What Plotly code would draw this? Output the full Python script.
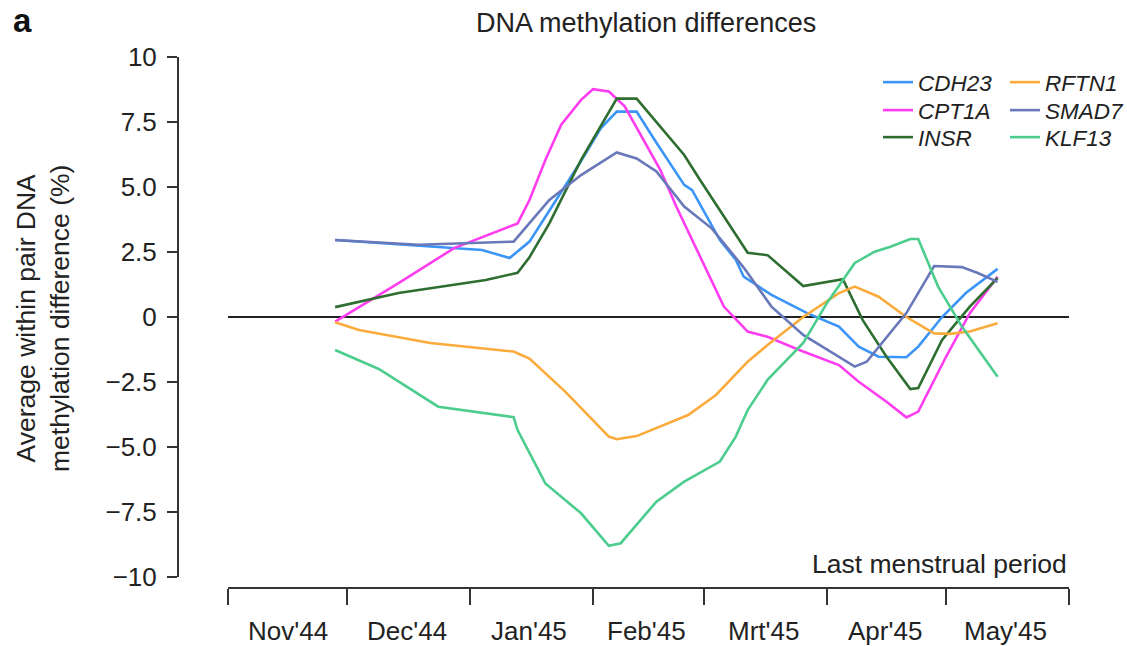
import plotly.graph_objects as go

# ---------------- data ----------------
CDH23_dates = ["1944-11-28", "1944-12-19", "1945-01-04", "1945-01-11", "1945-01-16", "1945-01-29",
               "1945-02-03", "1945-02-07", "1945-02-12", "1945-02-17", "1945-02-24", "1945-02-26",
               "1945-03-05", "1945-03-09", "1945-03-11", "1945-03-18", "1945-03-27", "1945-04-04",
               "1945-04-09", "1945-04-14", "1945-04-21", "1945-04-24", "1945-04-30", "1945-05-06",
               "1945-05-14"]
CDH23_vals = [2.96, 2.75, 2.58, 2.27, 2.9, 6.0,
              7.27, 7.9, 7.9, 6.7, 5.08, 4.88,
              2.96, 2.2, 1.55, 0.85, 0.15, -0.37,
              -1.14, -1.53, -1.55, -1.14, 0.0, 0.92,
              1.85]

CPT1A_dates = ["1944-11-28", "1944-12-14", "1944-12-28", "1945-01-13", "1945-01-16", "1945-01-20",
               "1945-01-24", "1945-01-29", "1945-02-01", "1945-02-05", "1945-02-09", "1945-02-12",
               "1945-02-18", "1945-02-22", "1945-02-28", "1945-03-06", "1945-03-12", "1945-03-17",
               "1945-03-25", "1945-04-04", "1945-04-09", "1945-04-16", "1945-04-21", "1945-04-24",
               "1945-05-01", "1945-05-07", "1945-05-14"]
CPT1A_vals = [-0.18, 1.3, 2.65, 3.6, 4.5, 6.04,
              7.4, 8.35, 8.76, 8.67, 8.1, 7.3,
              5.65, 4.25, 2.35, 0.4, -0.56, -0.76,
              -1.27, -1.85, -2.49, -3.26, -3.86, -3.64,
              -1.53, 0.15, 1.55]

INSR_dates = ["1944-11-28", "1944-12-14", "1945-01-05", "1945-01-13", "1945-01-16", "1945-01-21",
              "1945-01-29", "1945-02-07", "1945-02-12", "1945-02-18", "1945-02-24", "1945-02-28",
              "1945-03-05", "1945-03-12", "1945-03-17", "1945-03-26", "1945-04-05", "1945-04-10",
              "1945-04-16", "1945-04-22", "1945-04-24", "1945-04-30", "1945-05-07", "1945-05-14"]
INSR_vals = [0.38, 0.92, 1.42, 1.7, 2.3, 3.6,
             6.04, 8.4, 8.4, 7.3, 6.23, 5.27,
             4.1, 2.47, 2.38, 1.19, 1.45, -0.12,
             -1.53, -2.77, -2.73, -0.88, 0.4, 1.5]

RFTN1_dates = ["1944-11-28", "1944-12-04", "1944-12-22", "1945-01-12", "1945-01-16", "1945-01-25",
               "1945-02-05", "1945-02-07", "1945-02-12", "1945-02-25", "1945-03-04", "1945-03-12",
               "1945-03-17", "1945-03-26", "1945-04-04", "1945-04-08", "1945-04-14", "1945-04-21",
               "1945-04-28", "1945-05-02", "1945-05-07", "1945-05-14"]
RFTN1_vals = [-0.2, -0.5, -1.0, -1.33, -1.6, -2.87,
              -4.6, -4.7, -4.58, -3.77, -3.0, -1.72,
              -1.08, 0.0, 0.92, 1.17, 0.78, 0.0,
              -0.63, -0.65, -0.56, -0.24]

SMAD7_dates = ["1944-11-28", "1944-12-19", "1945-01-12", "1945-01-21", "1945-01-29", "1945-02-07",
               "1945-02-12", "1945-02-17", "1945-02-24", "1945-03-03", "1945-03-11", "1945-03-18",
               "1945-03-26", "1945-04-08", "1945-04-11", "1945-04-21", "1945-04-28", "1945-05-05",
               "1945-05-09", "1945-05-14"]
SMAD7_vals = [2.96, 2.78, 2.9, 4.5, 5.46, 6.33,
              6.1, 5.6, 4.25, 3.4, 1.9, 0.4,
              -0.69, -1.91, -1.72, 0.15, 1.96, 1.92,
              1.69, 1.35]

KLF13_dates = ["1944-11-28", "1944-12-09", "1944-12-24", "1945-01-12", "1945-01-13", "1945-01-20",
               "1945-01-29", "1945-02-05", "1945-02-08", "1945-02-17", "1945-02-24", "1945-03-05",
               "1945-03-09", "1945-03-12", "1945-03-17", "1945-03-26", "1945-04-01", "1945-04-08",
               "1945-04-13", "1945-04-17", "1945-04-22", "1945-04-24", "1945-04-29", "1945-05-05",
               "1945-05-14"]
KLF13_vals = [-1.27, -2.0, -3.45, -3.85, -4.35, -6.4,
              -7.55, -8.8, -8.7, -7.1, -6.33, -5.56,
              -4.6, -3.58, -2.42, -1.0, 0.54, 2.08,
              2.51, 2.7, 3.0, 3.0, 1.17, -0.37,
              -2.3]

series_names = ["CDH23", "CPT1A", "INSR", "RFTN1", "SMAD7", "KLF13"]
series_dates = [CDH23_dates, CPT1A_dates, INSR_dates, RFTN1_dates, SMAD7_dates, KLF13_dates]
series_vals = [CDH23_vals, CPT1A_vals, INSR_vals, RFTN1_vals, SMAD7_vals, KLF13_vals]
series_colors = ["#3a95f7", "#ff3df0", "#2f6e31", "#fbab3c", "#6878b8", "#4ccd8e"]

month_starts = ["1944-11-01", "1944-12-01", "1945-01-01", "1945-02-01", "1945-03-01",
                "1945-04-01", "1945-05-01", "1945-06-01"]
month_mids = ["1944-11-16", "1944-12-16", "1945-01-16", "1945-02-14 12:00", "1945-03-16",
              "1945-04-15 12:00", "1945-05-16"]
month_labels = ["Nov'44", "Dec'44", "Jan'45", "Feb'45", "Mrt'45", "Apr'45", "May'45"]

y_ticks = [10, 7.5, 5, 2.5, 0, -2.5, -5, -7.5, -10]
y_ticktext = ["10", "7.5", "5.0", "2.5", "0", "\u22122.5", "\u22125.0", "\u22127.5", "\u221210"]

FONT = "Liberation Sans, Arial, Helvetica, sans-serif"
AX = "#333333"
TXT = "#222222"

W, H = 1127, 646
ml, mr, mt, mb = 178, 58, 57, 58
pw = W - ml - mr
ph = H - mt - mb


def px_x(p):
    return (p - ml) / pw


def px_y(p):
    return (H - mb - p) / ph


fig = go.Figure()
# legend layout: two columns x three rows
leg_left = [878, 878, 878, 1005, 1005, 1005]
leg_top = [61, 89, 116, 61, 89, 116]
legends = {}
for i, (name, d, v, c) in enumerate(zip(series_names, series_dates, series_vals, series_colors)):
    lid = "legend" if i == 0 else "legend%d" % (i + 1)
    fig.add_trace(go.Scatter(x=d, y=v, mode="lines", name="<i>" + name + "</i>",
                             line=dict(color=c, width=2.6), legend=lid))
    legends[lid] = dict(x=px_x(leg_left[i]), xanchor="left", y=px_y(leg_top[i]), yanchor="top",
                        orientation="v", itemwidth=30, font=dict(size=22.5, color=TXT),
                        bgcolor="rgba(0,0,0,0)", borderwidth=0)

annotations = []
for md, lab in zip(month_mids, month_labels):
    annotations.append(dict(x=md, xref="x", y=px_y(631), yref="paper", text=lab,
                            showarrow=False, xanchor="center", yanchor="middle",
                            font=dict(size=26, color=TXT)))
annotations += [
    dict(x=1, xref="paper", y=px_y(564), yref="paper", text="Last menstrual period",
         showarrow=False, xanchor="right", yanchor="middle", font=dict(size=26.5, color=TXT)),
    dict(x=px_x(43), xref="paper", y=px_y(319), yref="paper",
         text="Average within pair DNA<br>methylation difference (%)", textangle=-90,
         showarrow=False, xanchor="center", yanchor="middle", font=dict(size=26.5, color=TXT)),
    dict(x=px_x(646), xref="paper", y=px_y(23), yref="paper",
         text="DNA methylation differences", showarrow=False, xanchor="center", yanchor="middle",
         font=dict(size=27, color=TXT)),
    dict(x=px_x(11), xref="paper", y=px_y(21), yref="paper",
         text="<b>a</b>", showarrow=False, xanchor="left", yanchor="middle",
         font=dict(size=33, color="#111")),
]

fig.update_layout(
    width=W, height=H,
    margin=dict(l=ml, r=mr, t=mt, b=mb, pad=0, autoexpand=False),
    paper_bgcolor="white", plot_bgcolor="white",
    font=dict(family=FONT, size=24, color=TXT),
    showlegend=True,
    xaxis=dict(type="date", range=[month_starts[0], month_starts[-1]],
               domain=[px_x(228), 1], anchor="free", position=0,
               showline=True, linecolor=AX, linewidth=2,
               tickmode="array", tickvals=month_starts, showticklabels=False,
               ticks="outside", ticklen=16, tickwidth=2, tickcolor=AX,
               showgrid=False, zeroline=False),
    yaxis=dict(range=[-10, 10], domain=[11 / ph, 1], anchor="free", position=0,
               showline=True, linecolor=AX, linewidth=2,
               tickmode="array", tickvals=y_ticks, ticktext=y_ticktext,
               ticks="outside", ticklen=10, tickwidth=2, tickcolor=AX,
               ticklabelstandoff=5, tickfont=dict(size=26, color=TXT),
               showgrid=False, zeroline=True, zerolinecolor="#222", zerolinewidth=2),
    annotations=annotations,
    **legends,
)

fig.write_html("out.html", config={"displayModeBar": False},
               post_script="document.body.style.margin='0px';")
